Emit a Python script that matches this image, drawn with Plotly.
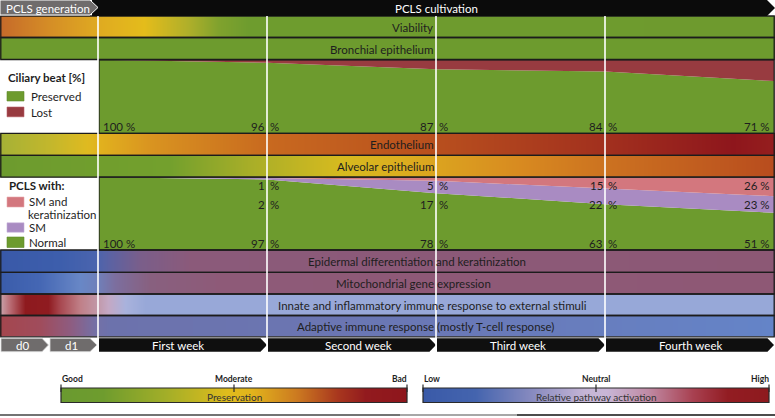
import plotly.graph_objects as go

# ---------------- data ----------------
time_days = [0, 7, 14, 21, 28]            # end of d1, end of week 1..4
week_labels = ["First week", "Second week", "Third week", "Fourth week"]
pre_labels = ["d0", "d1"]

ciliary_preserved = [100, 96, 87, 84, 71]
ciliary_lost = [0, 4, 13, 16, 29]

pcls_normal = [100, 97, 78, 63, 51]
pcls_sm = [0, 2, 17, 22, 23]
pcls_sm_kerat = [0, 1, 5, 15, 26]

# gradient rows: day positions of colour stops and colours
viability_days = [-4.06, -1.99, 0.0, 1.91, 3.73, 4.97, 6.21, 28.04]
viability_cols = ["#C66A2A", "#D58E26", "#DFAA21", "#E4BC1B", "#AFAF2A", "#80A22D", "#6E9C2E", "#6E9A2E"]
bronchial_days = [-4.06, 28.04]
bronchial_cols = ["#6D9B2E", "#6D9B2E"]
endothelium_days = [-4.06, -1.99, -0.46, 0.08, 2.15, 7.04, 14.0, 21.0, 26.3, 28.04]
endothelium_cols = ["#A5B136", "#C3B72C", "#DFBA20", "#E1B11E", "#D99420", "#C8691F", "#B84F1E", "#A2301E", "#8E161C", "#951E1E"]
alveolar_days = [-4.06, 2.98, 6.30, 10.02, 12.51, 17.48, 21.0, 28.04]
alveolar_cols = ["#6D9B2E", "#73A02D", "#A8AE28", "#D6BA1F", "#DCAE1F", "#D88A20", "#CC7220", "#B84C1E"]

epidermal_days = [-4.06, -1.57, -0.12, 0.5, 1.74, 3.81, 28.04]
epidermal_cols = ["#3959A8", "#3D5EAC", "#4A64AE", "#5C62A2", "#7A5E8A", "#8B5A7A", "#8C5875"]
mito_days = [-4.06, -2.40, -0.75, -0.04, 0.70, 2.15, 5.05, 28.04]
mito_cols = ["#3A5CAA", "#4567B4", "#6887C6", "#6F80BA", "#7C6E9E", "#88607F", "#8E5A78", "#8E5875"]
innate_days = [-4.06, -3.64, -3.02, -2.07, -1.57, -0.75, -0.04, 0.41, 1.12, 1.95, 28.04]
innate_cols = ["#C9A3AB", "#B86A72", "#8E1A1E", "#8F1B20", "#A84850", "#C08088", "#C198A8", "#C4A8C4", "#A9B2DC", "#98A8D8", "#97A8D8"]
adaptive_days = [-4.06, -2.40, -1.16, -0.12, 0.50, 14.17, 28.04]
adaptive_cols = ["#A4464E", "#A04C5C", "#8E5C80", "#7470A6", "#6C72AC", "#6A78B6", "#6484C8"]

preservation_scale = [[0, "#6A9A30"], [0.12, "#6E9C2E"], [0.3, "#A2AE28"], [0.48, "#E0BC1C"], [0.55, "#E2B41C"],
                      [0.68, "#CC7A20"], [0.8, "#A8361E"], [0.88, "#921A1E"], [1, "#8E161C"]]
activation_scale = [[0, "#3A5AA8"], [0.15, "#4464AE"], [0.32, "#8A8CC0"], [0.47, "#C6B6D6"], [0.53, "#C8B6D6"],
                    [0.65, "#C08AA4"], [0.78, "#A84050"], [0.88, "#921C22"], [1, "#8E1A1E"]]

# ---------------- style ----------------
W, H = 775, 418
FONT = "Lato"
GREEN = "#6D9B2E"
LOST = "#983B40"
PINK = "#D3777E"
LAV = "#A98BC2"
TXT = "#1e1e1e"
BORDER = "#1c1c1c"
GRAY = "#6F6C6C"

# pixel geometry of rows (top, bottom)
rows_geo = {
    "Viability": (16, 37.5), "Bronchial epithelium": (37.5, 59.5),
    "ciliary": (59.8, 133.3),
    "Endothelium": (133.3, 155.3), "Alveolar epithelium": (155.3, 177.2),
    "pcls": (177.2, 250),
    "Epidermal differentiation and keratinization": (250, 272.3),
    "Mitochondrial gene expression": (272.3, 294),
    "Innate and inflammatory immune response to external stimuli": (294, 315.5),
    "Adaptive immune response (mostly T-cell response)": (315.5, 336.8),
}
DAY0_PX, DAY_PX = 98.0, 24.143
xr = [-DAY0_PX / DAY_PX, (W - DAY0_PX) / DAY_PX]

fig = go.Figure()

def grad_row(days, cols, top, bot):
    n = len(cols)
    cs = [[i / (n - 1), c] for i, c in enumerate(cols)]
    z = [list(range(n)), list(range(n))]
    fig.add_trace(go.Heatmap(x=days, y=[top, (top + bot) / 2, bot], z=z, zmin=0, zmax=n - 1,
                             colorscale=cs, zsmooth="best", showscale=False, hoverinfo="skip",
                             xaxis="x", yaxis="y"))

row_data = [
    ("Viability", viability_days, viability_cols, "right", 435),
    ("Bronchial epithelium", bronchial_days, bronchial_cols, "right", 435),
    ("Endothelium", endothelium_days, endothelium_cols, "right", 436),
    ("Alveolar epithelium", alveolar_days, alveolar_cols, "right", 436),
    ("Epidermal differentiation and keratinization", epidermal_days, epidermal_cols, "center", 417),
    ("Mitochondrial gene expression", mito_days, mito_cols, "center", 413),
    ("Innate and inflammatory immune response to external stimuli", innate_days, innate_cols, "center", 432),
    ("Adaptive immune response (mostly T-cell response)", adaptive_days, adaptive_cols, "center", 425),
]
for name, d, c, _, _ in row_data:
    t, b = rows_geo[name]
    grad_row(d, c, t, b)

# stacked areas
for vals, col in [(ciliary_preserved, GREEN), (ciliary_lost, LOST)]:
    fig.add_trace(go.Scatter(x=time_days, y=vals, stackgroup="cil", mode="lines", line=dict(width=0),
                             fillcolor=col, hoverinfo="skip", xaxis="x", yaxis="y2", showlegend=False))
for vals, col in [(pcls_normal, GREEN), (pcls_sm, LAV), (pcls_sm_kerat, PINK)]:
    fig.add_trace(go.Scatter(x=time_days, y=vals, stackgroup="pcls", mode="lines", line=dict(width=0),
                             fillcolor=col, hoverinfo="skip", xaxis="x", yaxis="y3", showlegend=False))

# legend colour bars
for xa, cs in [("x3", preservation_scale), ("x4", activation_scale)]:
    fig.add_trace(go.Heatmap(x=[0, 0.5, 1], y=[0, 1], z=[[0, 0.5, 1], [0, 0.5, 1]], zmin=0, zmax=1,
                             colorscale=cs, zsmooth="best", showscale=False, hoverinfo="skip",
                             xaxis=xa, yaxis="y4"))

shapes = []
ann = []

def text(x, y, s, size=11, color=TXT, xanchor="center", xref="x2", bold=False, xshift=0):
    ann.append(dict(x=x, y=y, xref=xref, yref="y", text=f"<b>{s}</b>" if bold else s, showarrow=False,
                    xanchor=xanchor, yanchor="middle", xshift=xshift,
                    font=dict(family=FONT, size=size, color=color)))

# row borders + labels
for name, _, _, anchor, tx in row_data:
    t, b = rows_geo[name]
    shapes.append(dict(type="rect", xref="x2", yref="y", x0=0.8, x1=774.2, y0=t, y1=b,
                       line=dict(color=BORDER, width=1.3), layer="above"))
    text(tx, (t + b) / 2 + 0.5, name, xanchor=anchor, size=11.5)

# panel borders
for key in ["ciliary", "pcls"]:
    t, b = rows_geo[key]
    shapes.append(dict(type="rect", xref="x2", yref="y", x0=99, x1=774.2, y0=t, y1=b,
                       line=dict(color=BORDER, width=1.3), layer="above"))

# header
shapes.append(dict(type="path", xref="x2", yref="y", path="M 92,0 L 767,0 L 775,8 L 767,16 L 92,16 Z",
                   fillcolor="#0B0B0B", line=dict(width=0), layer="above"))
shapes.append(dict(type="path", xref="x2", yref="y", path="M 0,0 L 90,0 L 98,7.5 L 90,15 L 0,15 Z",
                   fillcolor=GRAY, line=dict(color="#FFFFFF", width=1), layer="above"))
text(48, 8, "PCLS generation", size=11.5, color="white")
text(436, 8, "PCLS cultivation", size=11.5, color="white")

# bottom chevrons
CT, CB = 338.3, 351.7
tip = 0.27
for i, lab in enumerate(week_labels):
    a, b = time_days[i], time_days[i + 1]
    a2 = a + 0.04
    shapes.append(dict(type="path", xref="x", yref="y",
                       path=f"M {a2},{CT} L {b - tip},{CT} L {b},{(CT + CB) / 2} L {b - tip},{CB} L {a2},{CB} Z",
                       fillcolor="#0F0F0F", line=dict(width=0), layer="above"))
week_label_px = [178, 358, 518, 690]
for lab, px in zip(week_labels, week_label_px):
    text(px, 345.3, lab, size=11.5, color="white")
pre_geo = [(1, 42, 48.5, 22.5), (50, 90, 97, 71)]
for lab, (x0, x1, xt, xc) in zip(pre_labels, pre_geo):
    shapes.append(dict(type="path", xref="x2", yref="y",
                       path=f"M {x0},{CT} L {x1},{CT} L {xt},{(CT + CB) / 2} L {x1},{CB} L {x0},{CB} Z",
                       fillcolor=GRAY, line=dict(color="#DDDDDD", width=0.8), layer="above"))
    text(xc, 345.3, lab, size=11.5, color="white")

# white separators at week boundaries
for d in time_days[:-1]:
    shapes.append(dict(type="line", xref="x", yref="y", x0=d, x1=d, y0=16, y1=352,
                       line=dict(color="white", width=1.6), layer="above"))

# percentage labels
def pct_labels(vals, y):
    for i, (d, v) in enumerate(zip(time_days, vals)):
        if v == 0:
            continue
        f = dict(family=FONT, size=11.5, color=TXT)
        if i == 0:
            ann.append(dict(x=d, y=y, xref="x", yref="y", text=f"{v} %", showarrow=False, xanchor="left",
                            xshift=3, font=f))
        elif i == len(time_days) - 1:
            ann.append(dict(x=d, y=y, xref="x", yref="y", text=f"{v} %", showarrow=False, xanchor="right",
                            xshift=-2, font=f))
        else:
            ann.append(dict(x=d, y=y, xref="x", yref="y", text=f"{v}", showarrow=False, xanchor="right",
                            xshift=-0.5, font=f))
            ann.append(dict(x=d, y=y, xref="x", yref="y", text="%", showarrow=False, xanchor="left",
                            xshift=1, font=f))

pct_labels(ciliary_preserved, 126.5)
pct_labels(pcls_sm_kerat, 185)
pct_labels(pcls_sm, 204)
pct_labels(pcls_normal, 243)

# left legends
text(6, 77, "Ciliary beat [%]", bold=True, xanchor="left", size=11.5)
shapes.append(dict(type="rect", xref="x2", yref="y", x0=7, x1=24, y0=91.5, y1=101, fillcolor=GREEN,
                   line=dict(color="#5E8A28", width=0.6), layer="above"))
text(29, 96.5, "Preserved", xanchor="left", size=11.5)
shapes.append(dict(type="rect", xref="x2", yref="y", x0=7, x1=24, y0=107, y1=116.8, fillcolor=LOST,
                   line=dict(color="#B86068", width=0.6), layer="above"))
text(29, 112, "Lost", xanchor="left", size=11.5)

text(7, 185, "PCLS with:", bold=True, xanchor="left", size=11.5)
shapes.append(dict(type="rect", xref="x2", yref="y", x0=7, x1=24, y0=197, y1=207, fillcolor=PINK,
                   line=dict(color="#E8A8AC", width=0.6), layer="above"))
text(27, 201.5, "SM and", xanchor="left", size=11.5)
text(26, 214, "keratinization", xanchor="left", size=11.5)
shapes.append(dict(type="rect", xref="x2", yref="y", x0=7, x1=24, y0=222.8, y1=232.2, fillcolor=LAV,
                   line=dict(color="#C4B0D8", width=0.6), layer="above"))
text(27, 227.5, "SM", xanchor="left", size=11.5)
shapes.append(dict(type="rect", xref="x2", yref="y", x0=7, x1=24, y0=237, y1=247.5, fillcolor=GREEN,
                   line=dict(color="#5E8A28", width=0.6), layer="above"))
text(27, 242.5, "Normal", xanchor="left", size=11.5)

# bottom colour-bar legends
for (x0, x1, lo, mid, hi, title) in [(61, 407, "Good", "Moderate", "Bad", "Preservation"),
                                      (423, 769, "Low", "Neutral", "High", "Relative pathway activation")]:
    xm = (x0 + x1) / 2
    shapes.append(dict(type="rect", xref="x2", yref="y", x0=x0, x1=x1, y0=388, y1=402.5,
                       line=dict(color="#2a2a2a", width=1.2), layer="above"))
    for xt in (x0, xm, x1):
        shapes.append(dict(type="line", xref="x2", yref="y", x0=xt, x1=xt, y0=384.5, y1=392,
                           line=dict(color="#2a2a2a", width=1.2), layer="above"))
    text(x0 - 1, 378.5, lo, size=8.5, bold=True, xanchor="left")
    text(xm, 378.5, mid, size=8.5, bold=True)
    text(x1 + 2, 378.5, hi, size=8.5, bold=True, xanchor="right")
    text(xm, 396.5, title, size=10, color="#333333")

# bottom rule
shapes.append(dict(type="line", xref="x2", yref="y", x0=0, x1=400, y0=415, y1=415,
                   line=dict(color="#444444", width=1.5), layer="above"))
shapes.append(dict(type="line", xref="x2", yref="y", x0=400, x1=517, y0=415, y1=415,
                   line=dict(color="#8a8a8a", width=1.5), layer="above"))
shapes.append(dict(type="line", xref="x2", yref="y", x0=517, x1=775, y0=415, y1=415,
                   line=dict(color="#111111", width=1.5), layer="above"))

hid = dict(visible=False, fixedrange=True)
fig.update_layout(
    width=W, height=H, autosize=False, margin=dict(l=0, r=0, t=0, b=0),
    paper_bgcolor="white", plot_bgcolor="rgba(0,0,0,0)", showlegend=False,
    xaxis=dict(range=xr, domain=[0, 1], anchor="y", **hid),
    xaxis2=dict(range=[0, W], overlaying="x", anchor="y", **hid),
    yaxis=dict(range=[H, 0], domain=[0, 1], anchor="x", **hid),
    yaxis2=dict(range=[0, 100], domain=[1 - rows_geo["ciliary"][1] / H, 1 - rows_geo["ciliary"][0] / H], anchor="x", **hid),
    yaxis3=dict(range=[0, 100], domain=[1 - rows_geo["pcls"][1] / H, 1 - rows_geo["pcls"][0] / H], anchor="x", **hid),
    xaxis3=dict(range=[0, 1], domain=[61 / W, 407 / W], anchor="y4", **hid),
    xaxis4=dict(range=[0, 1], domain=[423 / W, 769 / W], anchor="y4", **hid),
    yaxis4=dict(range=[0, 1], domain=[1 - 402.5 / H, 1 - 388 / H], anchor="x3", **hid),
    shapes=shapes, annotations=ann,
)
fig.write_html("out.html", config={"displayModeBar": False, "staticPlot": True},
               post_script="document.body.style.margin='0';document.body.style.overflow='hidden';")
